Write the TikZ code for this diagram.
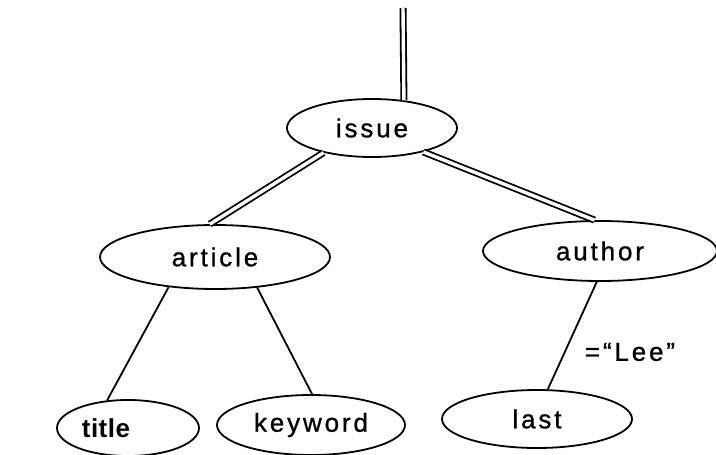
\documentclass[tikz,border=0pt]{standalone}
\usepackage{fontspec}
\setmainfont{Liberation Sans}[LetterSpace=11, FakeBold=0.9]
\newfontfamily\tightfont{Liberation Sans}[LetterSpace=2]
\usetikzlibrary{shapes.geometric}
\begin{document}
\begin{tikzpicture}[x=1pt,y=-1pt,
  elem/.style={draw, ellipse, line width=1.8pt, inner sep=0pt,
    font=\fontsize{26}{30}\selectfont},
  link/.style={line width=1.8pt},
  dlink/.style={draw, line width=1.8pt, double, double distance=3.4pt}]
  \useasboundingbox (0,0) rectangle (716,455);

  % tree nodes
  \node[elem, minimum width=170pt, minimum height=58pt] (issue) at (372,128) {issue};
  \node[elem, minimum width=230pt, minimum height=64pt] (article) at (215,257) {article};
  \node[elem, minimum width=234pt, minimum height=60pt] (author) at (600,251) {author};
  \node[elem, minimum width=142pt, minimum height=56pt, font=\fontsize{26}{30}\tightfont\bfseries] (title) at (128,428) {title\hspace*{44pt}};
  \node[elem, minimum width=188pt, minimum height=60pt] (keyword) at (311,425) {keyword};
  \node[elem, minimum width=190pt, minimum height=58pt] (last) at (537,419) {last};

  % incoming edge from above
  \coordinate (top) at (403,8);
  \draw[dlink] (top) -- (issue.41);

  % double (child) edges
  \draw[dlink] (issue.207) -- (article.99);
  \draw[dlink] (issue.335) -- (author.100);

  % single (attribute) edges
  \draw[link] (article.213) -- (title.127);
  \draw[link] (article.324) -- (keyword.88);
  \draw[link] (author.264) -- (last.70);

  % value condition
  \node[font=\fontsize{26}{30}\selectfont, inner sep=0pt] (cond) at (630,352) {=“Lee”};
\end{tikzpicture}
\end{document}
